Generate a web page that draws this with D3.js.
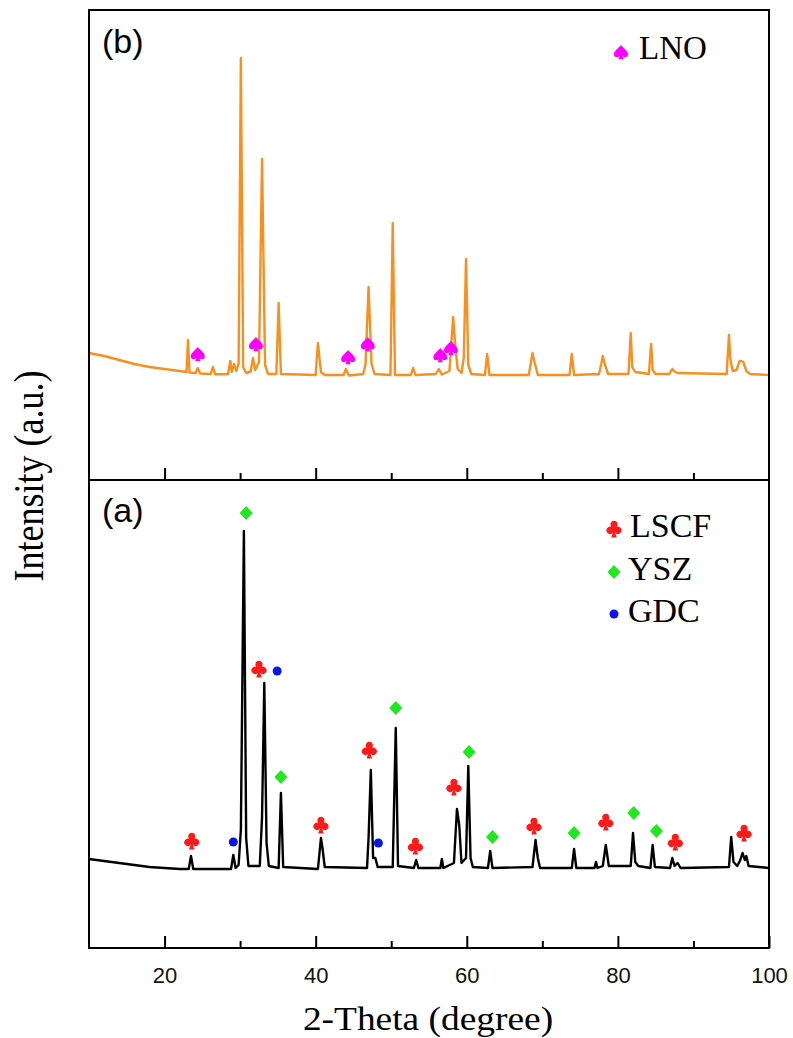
<!DOCTYPE html>
<html>
<head>
<meta charset="utf-8">
<script src="https://cdn.jsdelivr.net/npm/d3@7"></script>
<style>
  body { margin: 0; background: #fff; }
  svg { display: block; }
</style>
</head>
<body>
<svg id="chart" width="793" height="1038"></svg>
<script>
// x ticks
const majorTicks = [20, 40, 60, 80, 100]
const minorTicks = [30, 50, 70, 90]

// (b) LNO pattern, [2theta, intensity]
const lnoPattern = [[10,1270],[11,1255],[12,1240],[13,1220],[14,1200],[15,1180],[16,1160],[17,1145],[18,1130],[19,1120],[20,1110],[21,1100],[22,1090],[22.9,1080],[23.1,1400],[23.3,1075],[24.1,1070],[24.4,1120],[24.7,1065],[26.1,1060],[26.4,1130],[26.7,1058],[28.4,1060],[28.7,1190],[28.9,1080],[29.2,1160],[29.5,1090],[29.8,1160],[30.1,4220],[30.4,1130],[30.8,1070],[31.4,1085],[31.7,1220],[32.0,1100],[32.5,1180],[32.9,3210],[33.3,1150],[33.7,1060],[34.8,1060],[35.1,1770],[35.4,1060],[40.0,1050],[40.3,1370],[40.7,1080],[41.2,1050],[43.7,1050],[44.0,1110],[44.4,1045],[46.3,1060],[46.6,1160],[47.0,1930],[47.4,1160],[47.8,1060],[49.9,1050],[50.2,2570],[50.5,1050],[52.6,1050],[52.9,1120],[53.2,1050],[55.9,1060],[56.3,1110],[56.7,1055],[57.7,1090],[58.2,1630],[58.5,1320],[58.8,1110],[59.3,1070],[59.6,1220],[59.9,2210],[60.2,1150],[60.6,1060],[62.4,1050],[62.7,1260],[63.0,1050],[68.2,1050],[68.5,1180],[68.7,1270],[69.0,1170],[69.4,1050],[73.6,1050],[73.9,1260],[74.2,1050],[77.5,1060],[77.8,1160],[78.0,1240],[78.3,1150],[78.7,1060],[81.4,1060],[81.7,1470],[81.9,1130],[82.3,1080],[82.8,1075],[84.1,1060],[84.4,1360],[84.6,1100],[85.0,1060],[86.8,1060],[87.2,1110],[87.6,1080],[87.9,1070],[94.4,1060],[94.7,1450],[94.9,1200],[95.2,1090],[95.7,1100],[96.1,1190],[96.3,1190],[96.6,1180],[97.0,1090],[97.5,1060],[100,1050]]

// (a) LSCF + YSZ + GDC pattern
const cellPattern = [[10,890],[11,880],[12,870],[13,860],[14,850],[15,840],[16,830],[17,820],[18,810],[19,805],[20,800],[21,795],[22,790],[23.2,790],[23.5,920],[23.8,790],[28.8,790],[29.1,930],[29.4,800],[29.8,830],[30.1,1180],[30.5,4170],[30.8,1100],[31.1,820],[32.6,820],[32.9,1300],[33.2,2650],[33.5,1050],[33.8,820],[35.1,800],[35.4,1550],[35.7,810],[40.3,790],[40.7,1100],[40.9,1000],[41.2,810],[46.8,800],[47.0,1100],[47.3,1780],[47.6,900],[47.9,900],[48.2,810],[50.2,810],[50.6,2200],[50.9,820],[53.0,800],[53.3,880],[53.6,800],[56.5,800],[56.7,890],[56.9,800],[58.3,850],[58.7,1390],[59.0,1230],[59.3,850],[59.9,900],[60.2,1820],[60.5,900],[60.8,810],[62.8,800],[63.1,970],[63.4,800],[68.7,810],[69.1,1080],[69.4,900],[69.7,800],[73.9,800],[74.2,990],[74.5,800],[76.9,800],[77.1,860],[77.3,800],[78.0,820],[78.4,1030],[78.8,820],[81.7,820],[82.0,1150],[82.3,860],[82.7,820],[84.3,800],[84.6,1030],[84.9,810],[86.9,800],[87.2,900],[87.5,820],[87.9,850],[88.3,800],[94.7,810],[95.0,1110],[95.3,860],[95.8,820],[96.2,880],[96.5,950],[96.8,880],[97.0,920],[97.3,820],[100,800]]

// phase markers [2theta, intensity where the symbol sits]
const lnoPeaks = [[24.4,1260],[32.1,1360],[44.3,1230],[46.9,1360],[56.5,1250],[57.9,1320]]
const lscfPeaks = [[23.6,1060],[32.5,2780],[40.7,1220],[47.1,1970],[53.2,1010],[58.3,1600],[68.9,1210],[78.4,1250],[87.6,1050],[96.7,1140]]
const yszPeaks = [[30.8,4350],[35.4,1710],[50.6,2400],[60.3,1960],[63.4,1110],[74.2,1150],[82.1,1350],[85.1,1170]]
const gdcPeaks = [[29.1,1060],[34.9,2770],[48.3,1050]]

const legendB = ["LNO"]
const legendA = ["LSCF", "YSZ", "GDC"]

const svg = d3.select("#chart")
const left = 89, right = 769
const topB = 10, midY = 480, botA = 948

const x = d3.scaleLinear().domain([10, 100]).range([left, right])
const yB = d3.scaleLinear().domain([0, 4700]).range([midY, topB])
const yA = d3.scaleLinear().domain([0, 4680]).range([botA, midY])

const shapes = {
  club: "M-1,2.5 A3.6,3.6 0 1 1 -1.6,-2.4 A3.6,3.6 0 1 1 1.6,-2.4 A3.6,3.6 0 1 1 1,2.5 L2.8,7.5 L-2.8,7.5 Z",
  spade: "M0,-7 C2.5,-3.8 7,-1.2 7,2.4 C7,5.2 3.8,6 1.4,3.9 L2.6,7.2 L-2.6,7.2 L-1.4,3.9 C-3.8,6 -7,5.2 -7,2.4 C-7,-1.2 -2.5,-3.8 0,-7 Z",
  diamond: "M0,-7 L6.5,0 L0,7 L-6.5,0 Z"
}
const colors = { LNO: "#ff00ff", LSCF: "#ff1a1a", YSZ: "#1ee81e", GDC: "#0a14e6" }

// curves
const lineB = d3.line().x(d => x(d[0])).y(d => yB(d[1]))
const lineA = d3.line().x(d => x(d[0])).y(d => yA(d[1]))

svg.append("path")
  .datum(lnoPattern)
  .attr("d", lineB)
  .attr("fill", "none")
  .attr("stroke", "#f7901e")
  .attr("stroke-width", 2.4)
  .attr("stroke-linejoin", "round")

svg.append("path")
  .datum(cellPattern)
  .attr("d", lineA)
  .attr("fill", "none")
  .attr("stroke", "#000")
  .attr("stroke-width", 2.4)
  .attr("stroke-linejoin", "round")

// markers
function drawShapes(data, yScale, shape, color) {
  svg.append("g").selectAll("path")
    .data(data)
    .enter()
    .append("path")
    .attr("d", shapes[shape])
    .attr("transform", d => `translate(${x(d[0])},${yScale(d[1])})`)
    .attr("fill", color)
}
drawShapes(lnoPeaks, yB, "spade", colors.LNO)
drawShapes(lscfPeaks, yA, "club", colors.LSCF)
drawShapes(yszPeaks, yA, "diamond", colors.YSZ)
svg.append("g").selectAll("circle")
  .data(gdcPeaks)
  .enter()
  .append("circle")
  .attr("cx", d => x(d[0]))
  .attr("cy", d => yA(d[1]))
  .attr("r", 4.5)
  .attr("fill", colors.GDC)

// axes (ticks inward, no domain)
function tickAxis(yPos, values, len, labels) {
  const g = svg.append("g")
    .attr("transform", `translate(0,${yPos})`)
    .call(d3.axisBottom(x).tickValues(values).tickSize(-len).tickPadding(19)
      .tickFormat(labels ? d3.format("d") : ""))
  g.select(".domain").remove()
  g.selectAll("line").attr("stroke", "#000").attr("stroke-width", 2)
  g.selectAll("text")
    .attr("font-family", "Liberation Sans, Arial, sans-serif")
    .attr("font-size", 22)
    .attr("fill", "#111")
}
tickAxis(midY, majorTicks.slice(0, 4), 12, false)
tickAxis(midY, minorTicks, 7, false)
tickAxis(botA, majorTicks, 12, true)
tickAxis(botA, minorTicks, 7, false)

// frames
svg.append("rect")
  .attr("x", left).attr("y", topB)
  .attr("width", right - left).attr("height", midY - topB)
  .attr("fill", "none").attr("stroke", "#000").attr("stroke-width", 2)
svg.append("rect")
  .attr("x", left).attr("y", midY)
  .attr("width", right - left).attr("height", botA - midY)
  .attr("fill", "none").attr("stroke", "#000").attr("stroke-width", 2)

// panel letters
svg.append("text").attr("x", 102).attr("y", 53).text("(b)")
  .attr("font-family", "Liberation Sans, Arial, sans-serif").attr("font-size", 34)
svg.append("text").attr("x", 102).attr("y", 522).text("(a)")
  .attr("font-family", "Liberation Sans, Arial, sans-serif").attr("font-size", 34)

// legends
const serif = "Liberation Serif, Times New Roman, serif"
svg.append("path").attr("d", shapes.spade)
  .attr("transform", "translate(621,52)").attr("fill", colors.LNO)
svg.selectAll(".legB")
  .data(legendB)
  .enter()
  .append("text")
  .attr("x", 639).attr("y", 59)
  .attr("font-family", serif).attr("font-size", 33)
  .text(d => d)

const legShape = { LSCF: "club", YSZ: "diamond" }
legendA.forEach((name, i) => {
  const cy = 530 + i * 42
  if (legShape[name]) {
    svg.append("path").attr("d", shapes[legShape[name]])
      .attr("transform", `translate(614,${cy})`).attr("fill", colors[name])
  } else {
    svg.append("circle").attr("cx", 614).attr("cy", cy).attr("r", 4.5).attr("fill", colors[name])
  }
  svg.append("text")
    .attr("x", name === "LSCF" ? 630 : 628)
    .attr("y", cy + 7 + (name === "LSCF" ? 0 : 1))
    .attr("font-family", serif).attr("font-size", 34)
    .text(name)
})

// axis titles (the source figure is a bit stretched sideways)
svg.append("text")
  .attr("transform", "translate(428,1030) scale(1.1,1)")
  .attr("text-anchor", "middle")
  .attr("font-family", serif).attr("font-size", 34)
  .text("2-Theta (degree)")
svg.append("text")
  .attr("transform", "translate(43,476) scale(1.15,1) rotate(-90)")
  .attr("text-anchor", "middle")
  .attr("font-family", serif).attr("font-size", 36)
  .text("Intensity (a.u.)")
</script>
</body>
</html>
